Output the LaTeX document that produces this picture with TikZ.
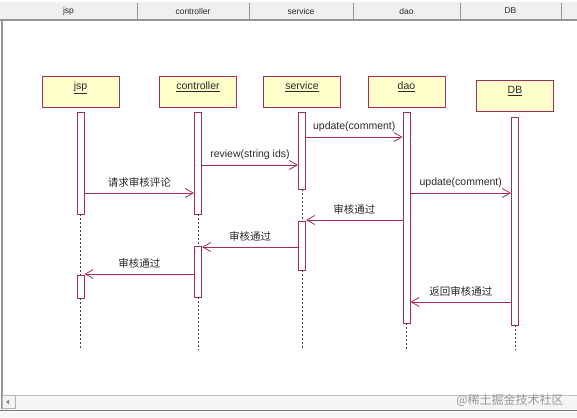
\documentclass[tikz,border=0pt]{standalone}
\usepackage{fontspec}
\setmainfont{Liberation Sans}
\newfontfamily\cjk{Noto Sans CJK SC}
\usetikzlibrary{arrows.meta}
\definecolor{lnc}{RGB}{165,45,90}
\definecolor{objfill}{RGB}{255,255,204}
\definecolor{hdrfill}{RGB}{240,240,240}
\definecolor{hdrline}{RGB}{150,150,150}
\definecolor{txt}{RGB}{40,40,40}
\newcommand{\objtxt}[1]{\raisebox{1.5pt}[0pt][0pt]{\underline{#1}}}
\tikzset{
  obj/.style={rectangle, draw=lnc, line width=0.9pt, fill=objfill, minimum width=77pt, minimum height=31pt, inner sep=0pt, font=\fontsize{10.5}{12}\selectfont, text=txt},
  act/.style={rectangle, draw=lnc, line width=0.9pt, fill=white, minimum width=7pt, inner sep=0pt},
  msg/.style={draw=lnc, line width=0.8pt, -{Straight Barb[length=8pt,width=9pt,line width=0.8pt]}},
  lbl/.style={font=\fontsize{10.5}{12}\selectfont, text=txt, inner sep=1pt, above=4pt},
  clbl/.style={font=\cjk\fontsize{10.5}{12}\selectfont, text=txt, inner sep=1pt, above=4pt},
  life/.style={draw=black!75, line width=0.8pt, dash pattern=on 1.5pt off 2.5pt},
  hdrlbl/.style={font=\fontsize{8.5}{10}\selectfont, text=txt},
}
\begin{document}
\begin{tikzpicture}[x=1pt,y=-1pt]
\useasboundingbox (0,0) rectangle (577,417);
% header bar
\fill[hdrfill] (0,2) rectangle (577,19);
\draw[hdrline, line width=1.5pt] (0,19.8) -- (577,19.8);
\foreach \sx in {137,249,353,460,561} \draw[hdrline, line width=0.8pt] (\sx,3) -- (\sx,19);
\node[hdrlbl] (h1) at (68.5,11) {jsp};
\node[hdrlbl] (h2) at (193,11) {controller};
\node[hdrlbl] (h3) at (301,11) {service};
\node[hdrlbl] (h4) at (406.5,11) {dao};
\node[hdrlbl] (h5) at (510.5,11) {DB};
% left border
\draw[hdrline, line width=1.2pt] (2,20) -- (2,409);
% bottom strip
\fill[black!4] (2.6,395) rectangle (577,409);
\draw[black!25, line width=0.6pt] (2.6,395) -- (577,395);
\draw[black!30, line width=0.6pt] (2.6,395.5) rectangle (15,408.5);
\fill[black!45] (6,402) -- (9,399.5) -- (9,404.5) -- cycle;
\draw[black!55, line width=1.4pt] (0,410.5) -- (577,410.5);
\fill[black!3] (0,411.5) rectangle (577,417);
\node[font=\cjk\fontsize{12}{14}\selectfont, text=black!40] (wm) at (510,400.5) {@稀土掘金技术社区};

% objects
\node[obj] (jspH) at (80.5,91.5) {\objtxt{jsp}};
\node[obj] (ctlH) at (198,91.5) {\objtxt{controller}};
\node[obj] (srvH) at (302,91.5) {\objtxt{service}};
\node[obj] (daoH) at (406.5,91.5) {\objtxt{dao}};
\node[obj] (dbH) at (515,95.5) {\objtxt{DB}};

% lifeline ends
\coordinate (jspE) at (80.5,350);
\coordinate (ctlE) at (198,350);
\coordinate (srvE) at (302,350);
\coordinate (daoE) at (406.5,350);
\coordinate (dbE) at (515,350);

% activation bars
\node[act, minimum height=102pt] (jsp1) at (80.5,163) {};
\node[act, minimum height=23pt] (jsp2) at (80.5,286.5) {};
\node[act, minimum height=102pt] (ctl1) at (198,163) {};
\node[act, minimum height=51pt] (ctl2) at (198,271.5) {};
\node[act, minimum height=77pt] (srv1) at (302,150.5) {};
\node[act, minimum height=49pt] (srv2) at (302,245.5) {};
\node[act, minimum height=211pt] (dao1) at (406.5,217.5) {};
\node[act, minimum height=208pt] (db1) at (515,221) {};

% dotted lifelines
\draw[life] (jsp1.south) -- (jsp2.north);
\draw[life] (jsp2.south) -- (jspE);
\draw[life] (ctl1.south) -- (ctl2.north);
\draw[life] (ctl2.south) -- (ctlE);
\draw[life] (srv1.south) -- (srv2.north);
\draw[life] (srv2.south) -- (srvE);
\draw[life] (dao1.south) -- (daoE);
\draw[life] (db1.south) -- (dbE);

% messages
\draw[msg] (srv1.east |- 0,137) -- (dao1.west |- 0,137) node[lbl, midway] {update(comment)};
\draw[msg] (ctl1.east |- 0,165) -- (srv1.west |- 0,165) node[lbl, midway] {review(string ids)};
\draw[msg] (jsp1.east |- 0,193) -- (ctl1.west |- 0,193) node[clbl, midway] {请求审核评论};
\draw[msg] (dao1.east |- 0,193) -- (db1.west |- 0,193) node[lbl, midway] {update(comment)};
\draw[msg] (dao1.west |- 0,220) -- (srv2.east |- 0,220) node[clbl, midway] {审核通过};
\draw[msg] (srv2.west |- 0,247) -- (ctl2.east |- 0,247) node[clbl, midway] {审核通过};
\draw[msg] (ctl2.west |- 0,274) -- (jsp2.east |- 0,274) node[clbl, midway] {审核通过};
\draw[msg] (db1.west |- 0,302) -- (dao1.east |- 0,302) node[clbl, midway] {返回审核通过};
\end{tikzpicture}
\end{document}
